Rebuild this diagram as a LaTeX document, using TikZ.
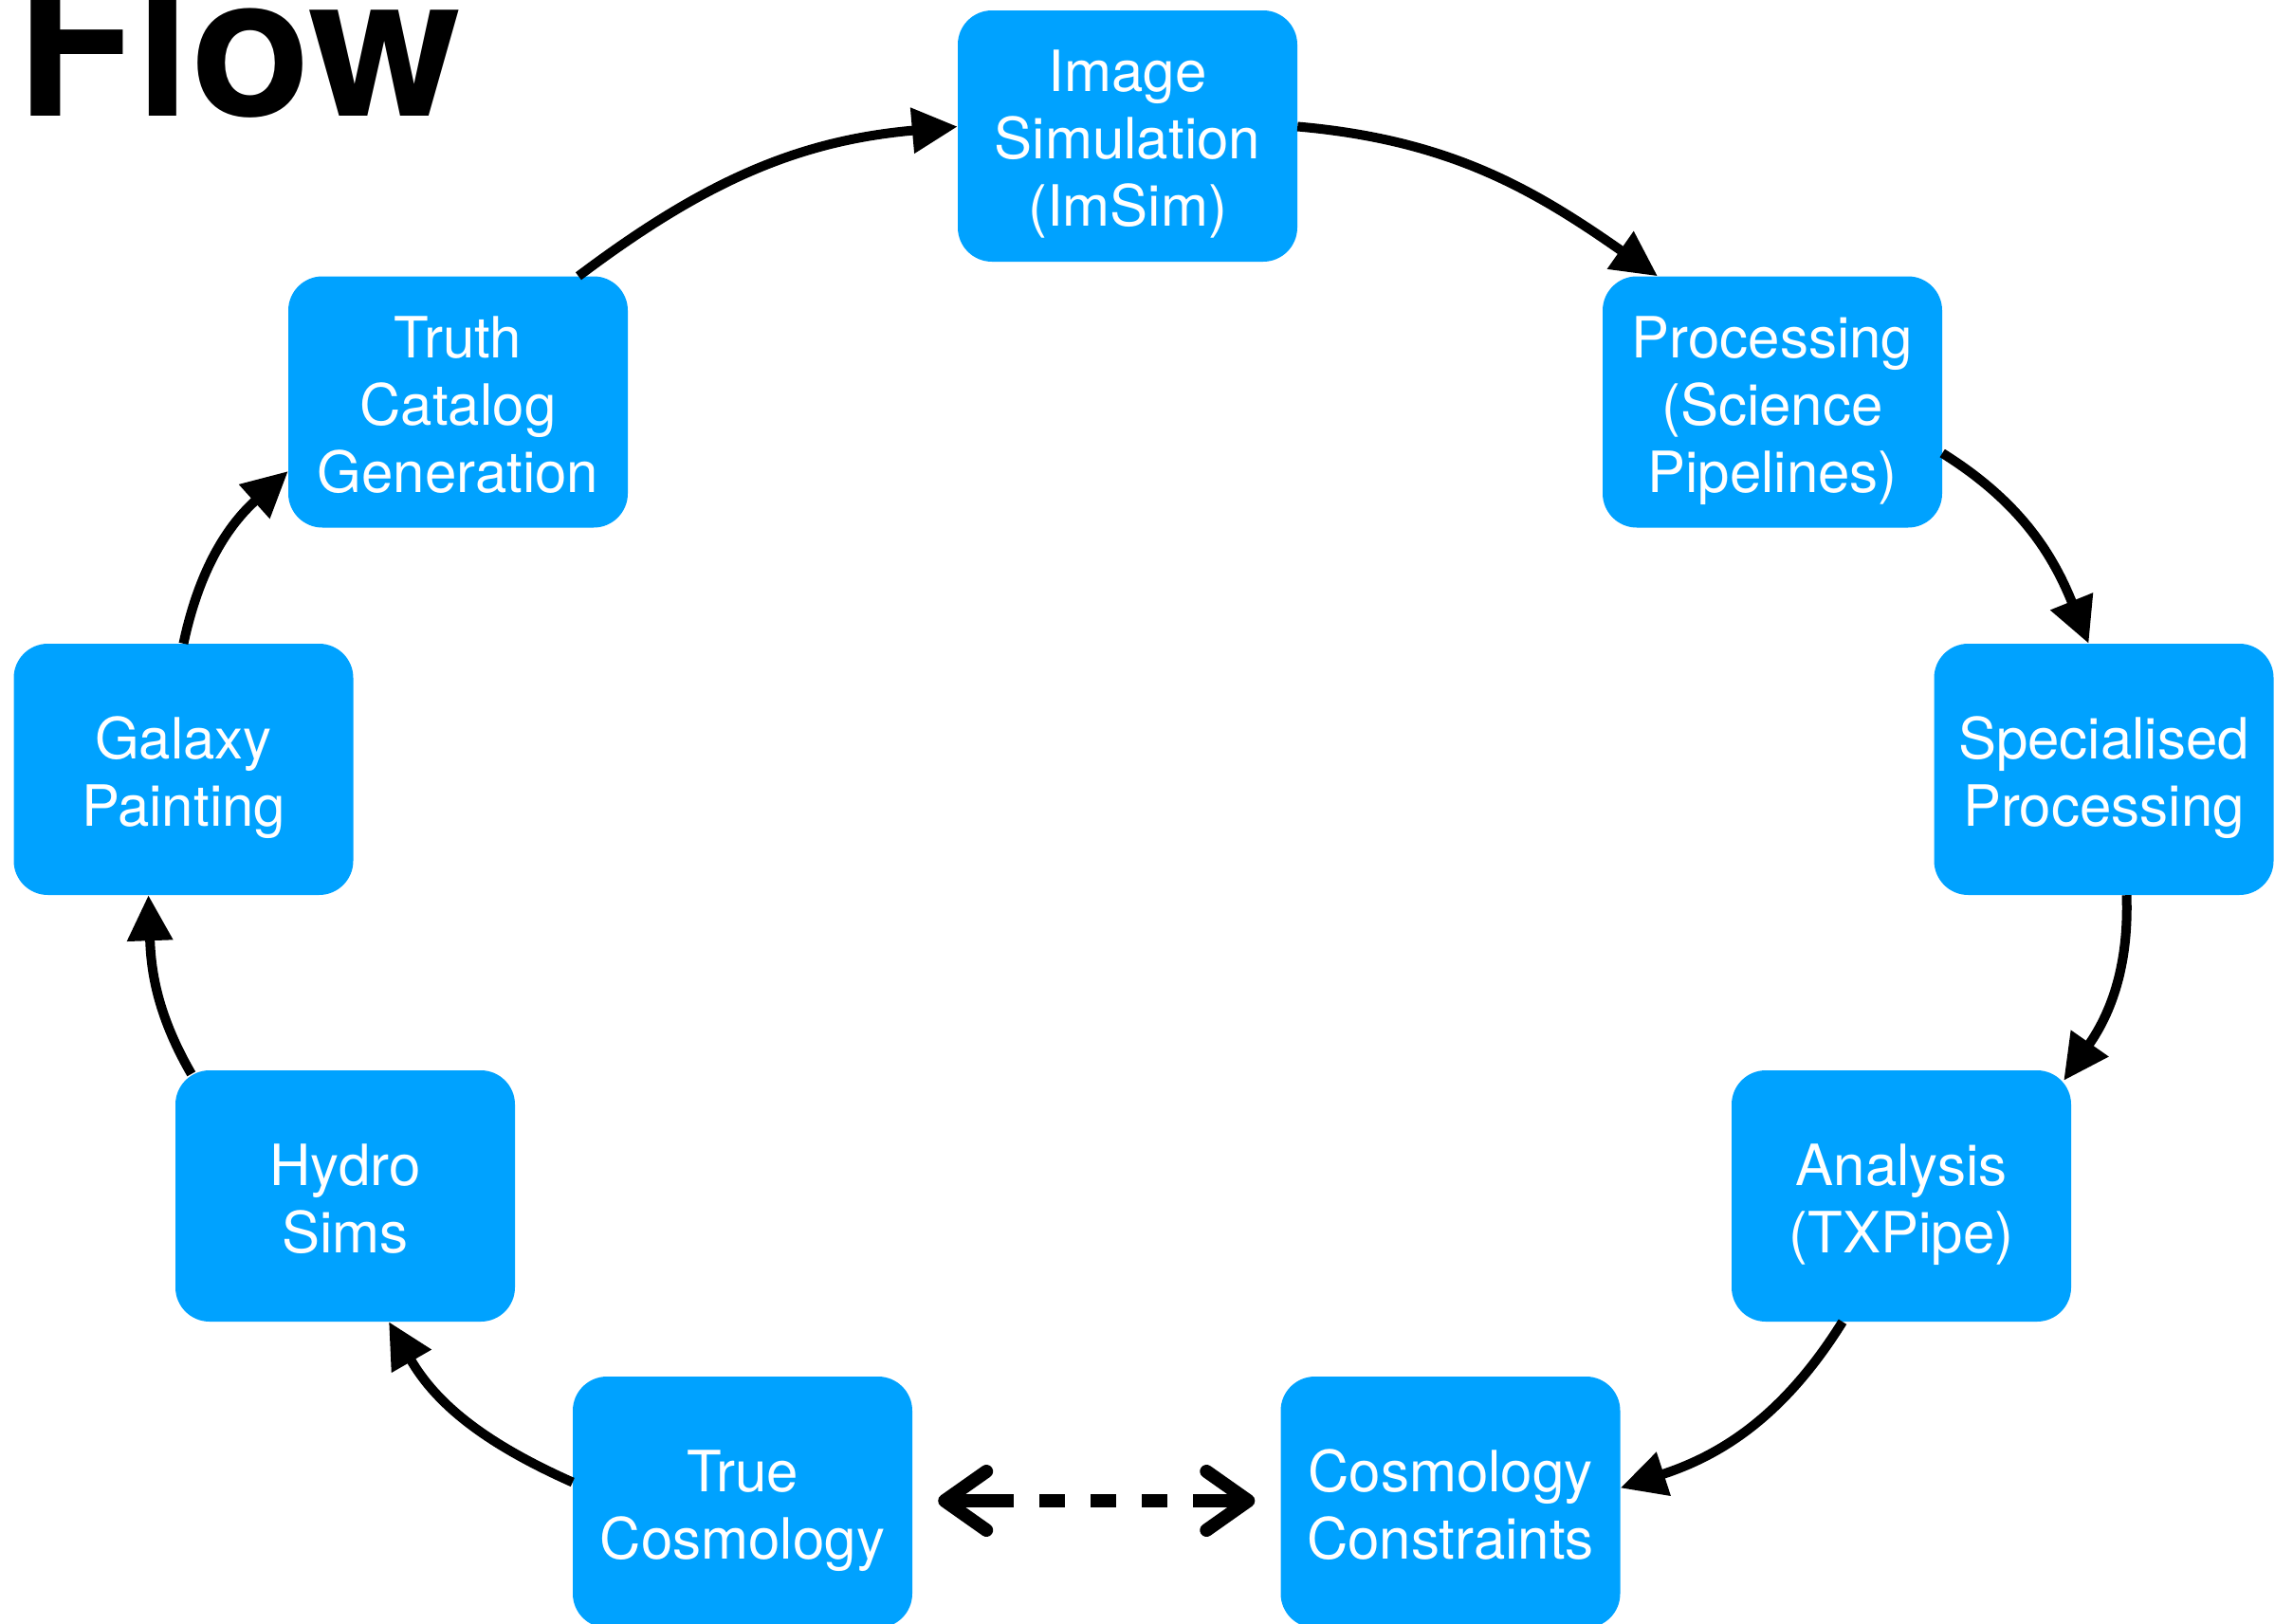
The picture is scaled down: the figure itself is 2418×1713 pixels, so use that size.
\documentclass[tikz,border=0pt]{standalone}
\usepackage{fontspec}
\setmainfont{TeX Gyre Heros}
\usetikzlibrary{arrows.meta}
\definecolor{boxblue}{RGB}{0,162,255}
\newcommand\stagetopstrut{\rule{0pt}{64pt}}
\newcommand\stagebotstrut{\rule[-16pt]{0pt}{16pt}}
\begin{document}
\begin{tikzpicture}[x=1pt,y=1pt,
  stage/.style={fill=boxblue, text=white, rounded corners=36pt, inner sep=0pt,
    minimum width=358pt, minimum height=265pt, align=center,
    font=\fontsize{60}{71}\selectfont,
    execute at end node=\stagebotstrut},
  flowarrow/.style={line width=10pt, -{Triangle[length=48pt,width=46pt]}},
  linkarrow/.style={line width=14pt,
    dash pattern=on 66pt off 27pt on 27pt off 27pt on 27pt off 27pt on 27pt off 27pt on 140pt,
    {Straight Barb[length=44pt,width=62pt,line cap=round,line join=round]}-{Straight Barb[length=44pt,width=62pt,line cap=round,line join=round]}}
]
\useasboundingbox (0,0) rectangle (2418,-1713);
\fill[white] (0,0) rectangle (2418,-1713);

\node[anchor=base west, inner sep=0pt, font=\fontsize{207}{207}\selectfont\bfseries] (title) at (17,-122) {Flow};

\node[stage] (ims) at (1189,-143.5) {\stagetopstrut Image\\Simulation\\(ImSim)};
\node[stage] (trc) at (483,-424) {\stagetopstrut Truth\\Catalog\\Generation};
\node[stage] (proc) at (1869,-424) {\stagetopstrut Processing\\(Science\\Pipelines)};
\node[stage] (gal) at (193.5,-811.5) {\stagetopstrut Galaxy\\Painting};
\node[stage] (spec) at (2218.5,-811.5) {\stagetopstrut Specialised\\Processing};
\node[stage] (hyd) at (364,-1261.5) {\stagetopstrut Hydro\\Sims};
\node[stage] (ana) at (2005,-1261.5) {\stagetopstrut Analysis\\(TXPipe)};
\node[stage] (tc) at (783,-1584.5) {\stagetopstrut True\\Cosmology};
\node[stage] (cc) at (1529.5,-1584.5) {\stagetopstrut Cosmology\\Constraints};

\draw[flowarrow] ([xshift=127pt]trc.north) to[out=37,in=185] ([yshift=10pt]ims.west);
\draw[flowarrow] ([yshift=10pt]ims.east) to[out=-5,in=145] ([xshift=-121pt]proc.north);
\draw[flowarrow] ([yshift=-54pt]proc.east) to[out=-32,in=112] ([xshift=-16pt]spec.north);
\draw[flowarrow] ([xshift=24pt]spec.south) to[out=-88,in=55] ([xshift=-8pt,yshift=-11pt]ana.north east);
\draw[flowarrow] ([xshift=-62pt]ana.south) to[out=238,in=18] ([yshift=15pt]cc.east);
\draw[flowarrow] ([yshift=21pt]tc.west) to[out=156,in=300] ([xshift=46pt]hyd.south);
\draw[flowarrow] ([xshift=17pt,yshift=-4pt]hyd.north west) to[out=120,in=272] ([xshift=-37pt]gal.south);
\draw[flowarrow] (gal.north) to[out=78,in=222] ([yshift=-73pt]trc.west);

\draw[linkarrow, shorten <=27pt, shorten >=27pt] ([yshift=1.5pt]tc.east) -- ([yshift=1.5pt]cc.west);
\end{tikzpicture}
\end{document}
